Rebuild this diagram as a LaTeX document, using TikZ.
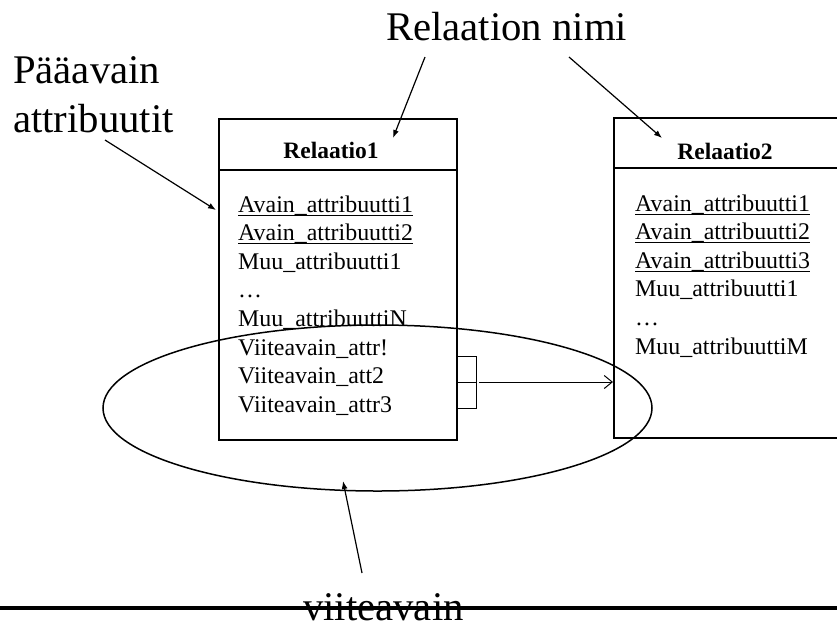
\documentclass[tikz,border=0pt]{standalone}
\usepackage{fontspec}
\setmainfont{Liberation Serif}
\usetikzlibrary{arrows.meta}

\begin{document}
\begin{tikzpicture}[x=1pt,y=-1pt,
  relbox/.style={draw, line width=1.5pt, inner sep=0pt, anchor=north west},
  attr/.style={anchor=base west, inner sep=0pt, font=\fontsize{23.9}{28}\selectfont},
  head/.style={anchor=base, inner sep=0pt, font=\fontsize{23.5}{28}\selectfont\bfseries},
  big/.style={anchor=base west, inner sep=0pt, font=\fontsize{40.7}{50}\selectfont},
  pointer/.style={line width=1.2pt, -{Latex[length=8pt,width=6pt]}},
  keyline/.style={line width=1pt},
  uline/.style={line width=1pt}
]
\useasboundingbox (0,0) rectangle (837,622);
\clip (0,0) rectangle (837,622);

% relation boxes
\node[relbox, minimum width=238pt, minimum height=321pt] (r1) at (218,118) {};
\draw[line width=1.5pt] (218,170) -- (456,170);
\node[relbox, minimum width=300pt, minimum height=320pt] (r2) at (613,117) {};
\draw[line width=1.5pt] (613,168) -- (913,168);

% headers
\node[head] (h1) at (331,158) {Relaatio1};
\node[head] (h2) at (725,159) {Relaatio2};

% attributes of Relaatio1
\node[attr] (a1) at (238,212.0) {Avain\_attribuutti1};
\node[attr] (a2) at (238,240.6) {Avain\_attribuutti2};
\node[attr] (a3) at (238,269.2) {Muu\_attribuutti1};
\node[attr] (a4) at (238,297.8) {\dots};
\node[attr] (a5) at (238,326.4) {Muu\_attribuuttiN};
\node[attr] (a6) at (238,355.0) {Viiteavain\_attr!};
\node[attr] (a7) at (238,383.6) {Viiteavain\_att2};
\node[attr] (a8) at (238,412.2) {Viiteavain\_attr3};
\foreach \n in {a1,a2}
  \draw[uline] ([yshift=-3pt]\n.base west) -- ([yshift=-3pt]\n.base east);

% attributes of Relaatio2
\node[attr] (b1) at (635,211.0) {Avain\_attribuutti1};
\node[attr] (b2) at (635,239.6) {Avain\_attribuutti2};
\node[attr] (b3) at (635,268.2) {Avain\_attribuutti3};
\node[attr] (b4) at (635,296.8) {Muu\_attribuutti1};
\node[attr] (b5) at (635,325.4) {\dots};
\node[attr] (b6) at (635,354.0) {Muu\_attribuuttiM};
\foreach \n in {b1,b2,b3}
  \draw[uline] ([yshift=-3pt]\n.base west) -- ([yshift=-3pt]\n.base east);

% foreign key group and its reference
\draw[line width=1.5pt] (377.5,408) ellipse [x radius=274.5, y radius=83];
\coordinate (fk) at (456,382);
\draw[keyline] (456,356) -| (476,408) -- (456,408);
\draw[keyline] (fk) -- (476,382);
\coordinate (fkstart) at (479,382);
\coordinate (fkend) at (r2.west |- fk);
\draw[line width=1pt, -{Straight Barb[length=8pt,width=13pt]}] (fkstart) -- (fkend);

% explanatory labels
\node[big] (lname) at (386,40) {Relaation nimi};
\node[big] (lpk1) at (13,83) {Pääavain};
\node[big] (lpk2) at (13,132) {attribuutit};

\coordinate (n1s) at (425,57);
\coordinate (n1e) at (393,138);
\coordinate (n2s) at (569,57);
\coordinate (n2e) at (662,138);
\coordinate (pks) at (105,140);
\coordinate (pke) at (216,210);
\coordinate (fks) at (362,573);
\coordinate (fke) at (343,481);
\draw[pointer] (n1s) -- (n1e);
\draw[pointer] (n2s) -- (n2e);
\draw[pointer] (pks) -- (pke);
\draw[pointer] (fks) -- (fke);

% bottom rule and foreign key label
\draw[line width=4pt] (0,608) -- (837,608);
\node[big] (lfk) at (303,620) {viiteavain};
\end{tikzpicture}
\end{document}
